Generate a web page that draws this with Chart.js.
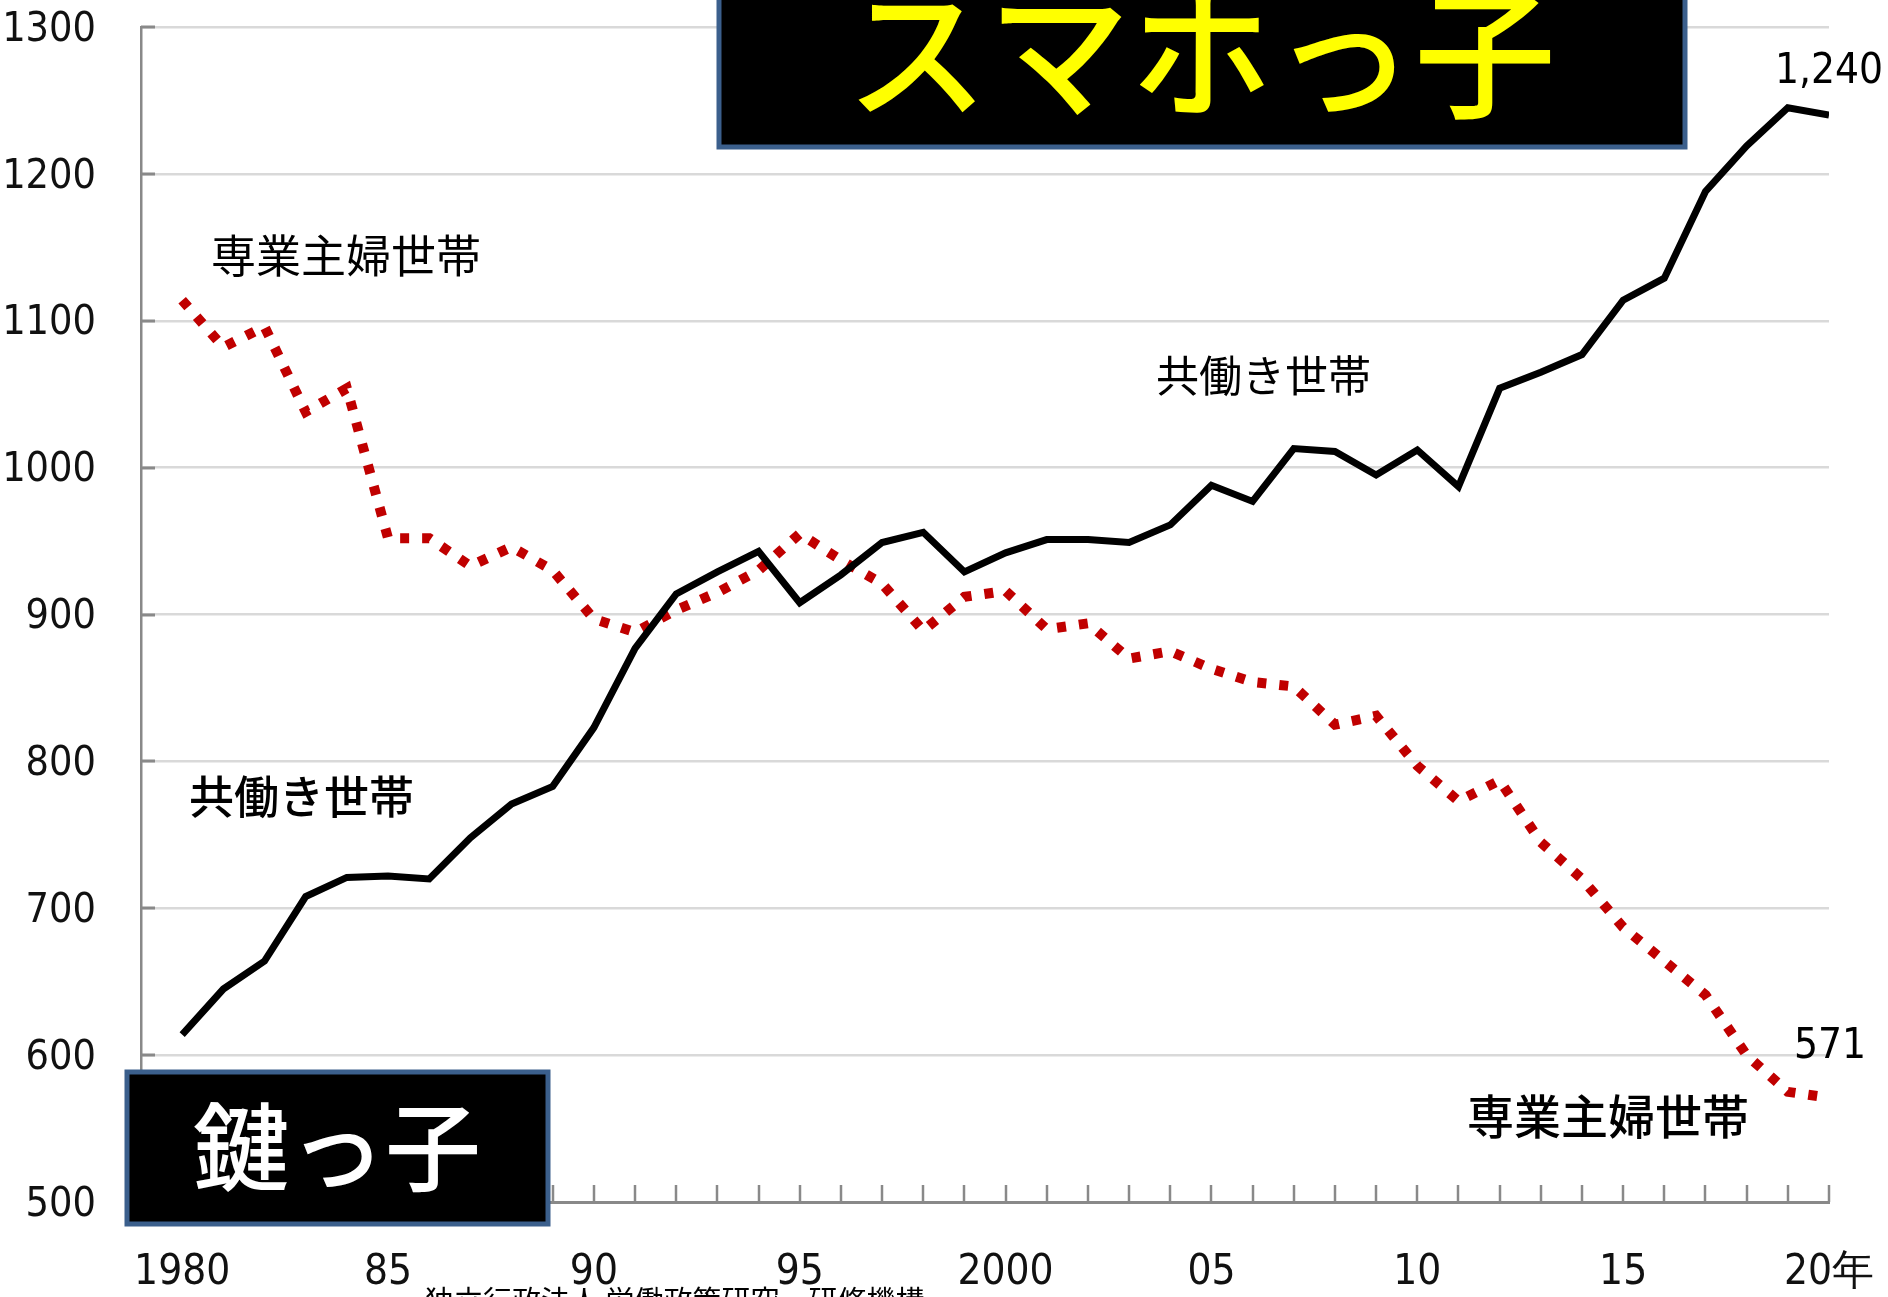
<!DOCTYPE html>
<html lang="ja">
<head>
<meta charset="utf-8">
<script src="https://cdn.jsdelivr.net/npm/chart.js@4.4.0/dist/chart.umd.min.js"></script>
<style>
  html, body { margin: 0; padding: 0; background: #fff; }
  #wrap { width: 1888px; height: 1297px; }
</style>
</head>
<body>
<div id="wrap"><canvas id="mychart" width="1888" height="1297"></canvas></div>
<script>
// 万世帯
const years = [1980, 1981, 1982, 1983, 1984, 1985, 1986, 1987, 1988, 1989,
               1990, 1991, 1992, 1993, 1994, 1995, 1996, 1997, 1998, 1999,
               2000, 2001, 2002, 2003, 2004, 2005, 2006, 2007, 2008, 2009,
               2010, 2011, 2012, 2013, 2014, 2015, 2016, 2017, 2018, 2019, 2020];
const dualIncome = [614, 645, 664, 708, 721, 722, 720, 748, 771, 783,
                    823, 877, 914, 929, 943, 908, 927, 949, 956, 929,
                    942, 951, 951, 949, 961, 988, 977, 1013, 1011, 995,
                    1012, 987, 1054, 1065, 1077, 1114, 1129, 1188, 1219, 1245, 1240];
const housewife = [1114, 1082, 1096, 1038, 1054, 952, 952, 933, 946, 930,
                   897, 888, 903, 915, 930, 955, 937, 921, 889, 912,
                   916, 890, 894, 870, 875, 863, 854, 851, 825, 831,
                   797, 773, 787, 745, 720, 687, 664, 641, 600, 575, 571];

const tickYears = [1980, 1985, 1990, 1995, 2000, 2005, 2010, 2015, 2020];
const tickLabels = ['1980', '85', '90', '95', '2000', '05', '10', '15', '20年'];
const yTicks = [500, 600, 700, 800, 900, 1000, 1100, 1200, 1300];

const numFont = "'Liberation Sans Narrow', 'DejaVu Sans Condensed', sans-serif";
const jpFont = "'Noto Sans CJK JP', sans-serif";

const getchart = document.querySelector('#mychart');

const data = {
  datasets: [{
    label: '共働き世帯',
    data: years.map((y, i) => ({ x: y, y: dualIncome[i] })),
    borderColor: '#000000',
    borderWidth: 7,
    pointRadius: 0,
    tension: 0,
    fill: false,
  }, {
    label: '専業主婦世帯',
    data: years.map((y, i) => ({ x: y, y: housewife[i] })),
    borderColor: '#C00000',
    borderWidth: 10,
    borderDash: [9, 13],
    borderCapStyle: 'butt',
    pointRadius: 0,
    tension: 0,
    fill: false,
  }]
};

function box(ctx, x, y, w, h, color, size) {
  ctx.fillStyle = '#000';
  ctx.fillRect(x, y, w, h);
  ctx.lineWidth = 5;
  ctx.strokeStyle = '#3B5F8C';
  ctx.strokeRect(x, y, w, h);
  ctx.fillStyle = color;
  ctx.font = '500 ' + size + 'px ' + jpFont;
  ctx.textAlign = 'center';
  ctx.textBaseline = 'alphabetic';
}

// annotations, small axis ticks
const overlay = {
  id: 'overlay',
  afterDraw(chart) {
    const ctx = chart.ctx;
    const xs = chart.scales.x, ys = chart.scales.y;
    const area = chart.chartArea;
    ctx.save();

    ctx.strokeStyle = '#898989';
    ctx.lineWidth = 2.5;
    years.forEach(yr => {
      const px = Math.round(xs.getPixelForValue(yr));
      ctx.beginPath();
      ctx.moveTo(px, area.bottom);
      ctx.lineTo(px, area.bottom - 17);
      ctx.stroke();
    });
    ctx.lineWidth = 3;
    yTicks.forEach(v => {
      const py = Math.round(ys.getPixelForValue(v));
      ctx.beginPath();
      ctx.moveTo(area.left, py);
      ctx.lineTo(area.left + 14, py);
      ctx.stroke();
    });

    // series labels
    ctx.fillStyle = '#000';
    ctx.textAlign = 'left';
    ctx.textBaseline = 'middle';
    ctx.font = '400 45px ' + jpFont;
    ctx.fillText('専業主婦世帯', 211, 256);
    ctx.font = '400 43px ' + jpFont;
    ctx.fillText('共働き世帯', 1156, 376);

    ctx.fillStyle = '#fff';
    ctx.fillRect(158, 765, 284, 64);
    ctx.fillStyle = '#000';
    ctx.font = '500 45px ' + jpFont;
    ctx.fillText('共働き世帯', 189, 797);
    ctx.font = '500 47px ' + jpFont;
    ctx.fillText('専業主婦世帯', 1467, 1116);

    // end values
    ctx.font = '42px ' + numFont;
    ctx.fillText('1,240', xs.getPixelForValue(2020) - 54, ys.getPixelForValue(1240) - 43);
    ctx.fillText('571', xs.getPixelForValue(2020) - 35, ys.getPixelForValue(571) - 51);

    // source note (cut at the bottom edge)
    ctx.font = '29px ' + jpFont;
    ctx.textBaseline = 'top';
    ctx.fillText('独立行政法人 労働政策研究・研修機構', 425, 1286);

    // boxes
    box(ctx, 719, -20, 966, 167, '#FFFF00', 142);
    ctx.fillText('スマホっ子', 1201, 107);
    box(ctx, 127, 1072, 421, 152, '#FFFFFF', 96);
    ctx.fillText('鍵っ子', 337, 1183);

    ctx.restore();
  }
};

const config = {
  type: 'line',
  data: data,
  options: {
    responsive: false,
    animation: false,
    devicePixelRatio: 1,
    layout: { padding: { top: 27, right: 59, bottom: 0, left: 0 } },
    plugins: {
      legend: { display: false },
      tooltip: { enabled: false },
    },
    scales: {
      x: {
        type: 'linear',
        min: 1979,
        max: 2020,
        afterBuildTicks: (scale) => {
          scale.ticks = tickYears.map(v => ({ value: v }));
        },
        ticks: {
          autoSkip: false,
          maxRotation: 0,
          padding: 0,
          color: '#111',
          font: { family: numFont, size: 42 },
          callback: (v) => {
            const i = tickYears.indexOf(v);
            return i >= 0 ? tickLabels[i] : '';
          },
        },
        grid: { display: true, drawOnChartArea: false, drawTicks: true, tickLength: 46, tickColor: 'rgba(0,0,0,0)' },
        border: { display: true, color: '#898989', width: 3 },
        afterFit: (scale) => { scale.height = 95; },
      },
      y: {
        min: 500,
        max: 1300,
        ticks: {
          stepSize: 100,
          padding: 0,
          labelOffset: 3,
          color: '#111',
          font: { family: numFont, size: 41 },
          callback: (v) => String(v),
        },
        grid: { color: '#D9D9D9', lineWidth: 2.5, drawTicks: true, tickLength: 45, tickColor: 'rgba(0,0,0,0)' },
        border: { display: true, color: '#898989', width: 2.5 },
        afterFit: (scale) => { scale.width = 141; },
      },
    },
  },
  plugins: [overlay],
};

let chart = new Chart(getchart, config);
</script>
</body>
</html>
